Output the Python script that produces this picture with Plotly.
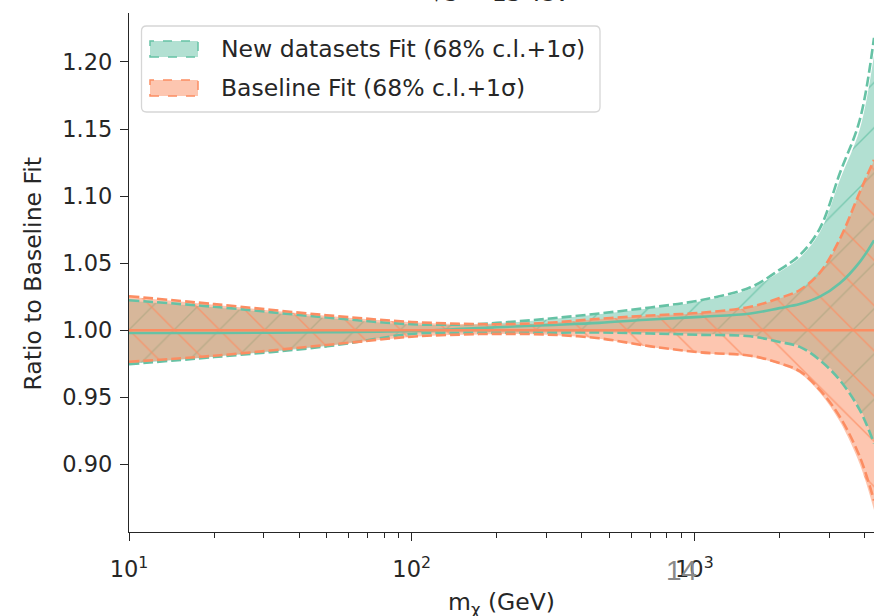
import plotly.graph_objects as go

# ---------------- data ----------------
mass = [10, 20, 50, 100, 150, 200, 300, 460, 700, 1050, 1580, 2000, 2360, 2780, 3270, 3850, 4320]

# Baseline fit (orange)
base_center = [1.0, 1.0, 1.0, 1.0, 1.0, 1.0, 1.0, 1.0, 1.0, 1.0, 1.0, 1.0, 1.0, 1.0, 1.0, 1.0, 1.0]
base_cl_up = [1.0250, 1.0190, 1.0108, 1.0060, 1.0046, 1.0043, 1.0053, 1.0083, 1.0108, 1.0128, 1.0172, 1.0236, 1.0296, 1.0425, 1.0675, 1.1025, 1.1265]
base_cl_lo = [0.9757, 0.9805, 0.9886, 0.9950, 0.9966, 0.9971, 0.9966, 0.9937, 0.9876, 0.9830, 0.9803, 0.9745, 0.9680, 0.9535, 0.9320, 0.9000, 0.8660]
base_sig_up = [1.0254, 1.0195, 1.0112, 1.0062, 1.0048, 1.0045, 1.0055, 1.0085, 1.0110, 1.0130, 1.0175, 1.0240, 1.0300, 1.0430, 1.0680, 1.1030, 1.1270]
base_sig_lo = [0.9765, 0.9810, 0.9890, 0.9952, 0.9968, 0.9973, 0.9968, 0.9940, 0.9880, 0.9835, 0.9810, 0.9755, 0.9695, 0.9555, 0.9355, 0.9056, 0.8730]

# New datasets fit (green)
new_center = [0.9980, 0.9980, 0.9985, 0.9995, 1.0010, 1.0022, 1.0038, 1.0055, 1.0080, 1.0100, 1.0125, 1.0165, 1.0195, 1.0250, 1.0350, 1.0510, 1.0670]
new_cl_up = [1.0220, 1.0171, 1.0092, 1.0043, 1.0040, 1.0052, 1.0081, 1.0120, 1.0164, 1.0216, 1.0310, 1.0435, 1.0540, 1.0730, 1.1120, 1.1500, 1.2050]
new_cl_lo = [0.9750, 0.9803, 0.9883, 0.9974, 0.9984, 0.9984, 0.9984, 0.9986, 0.9979, 0.9970, 0.9960, 0.9918, 0.9882, 0.9785, 0.9640, 0.9420, 0.9175]
new_sig_up = [1.0224, 1.0175, 1.0095, 1.0045, 1.0042, 1.0055, 1.0085, 1.0125, 1.0170, 1.0224, 1.0320, 1.0450, 1.0560, 1.0760, 1.1170, 1.1570, 1.2180]
new_sig_lo = [0.9747, 0.9800, 0.9880, 0.9972, 0.9982, 0.9982, 0.9982, 0.9983, 0.9976, 0.9966, 0.9955, 0.9913, 0.9876, 0.9777, 0.9628, 0.9404, 0.9156]

x_tick_vals = [10, 100, 1000]
x_tick_text = ["10<sup>1</sup>", "10<sup>2</sup>", "10<sup>3</sup>"]
x_minor_vals = [20, 30, 40, 50, 60, 70, 80, 90, 200, 300, 400, 500, 600, 700, 800, 900, 2000, 3000, 4000]
y_tick_vals = [0.90, 0.95, 1.00, 1.05, 1.10, 1.15, 1.20]
y_tick_text = ["0.90", "0.95", "1.00", "1.05", "1.10", "1.15", "1.20"]

legend_labels = ["New datasets Fit (68% c.l.+1σ)", "Baseline Fit (68% c.l.+1σ)"]
title_text = "√s = 13 TeV"
x_title = "m<sub>χ</sub> (GeV)"
y_title = "Ratio to Baseline Fit"
page_number = "14"

GREEN = "#66c2a5"
ORANGE = "#fc8d62"
GREEN_FILL = "rgba(102,194,165,0.5)"
ORANGE_FILL = "rgba(252,141,98,0.5)"
TXT = "#262626"

# ---------------- geometry helpers (layout only) ----------------
W, H = 874, 616
L, R, T, B = 129, 874, 13, 532


def px_x(p):
    return (p - L) / (R - L)


def px_y(p):
    return (B - p) / (B - T)


fig = go.Figure()


def band(lo, up, fill, fg, shape):
    lower = go.Scatter(x=mass, y=lo, mode="lines", line=dict(width=0, color=fill),
                       line_shape="spline", hoverinfo="skip", showlegend=False)
    upper = go.Scatter(
        x=mass, y=up, fill="tonexty", mode="lines", line=dict(width=0, color=fill),
        line_shape="spline", fillcolor=fill,
        fillpattern=dict(shape=shape, bgcolor=fill, fgcolor=fg, fgopacity=0.75,
                         size=32, solidity=0.045, fillmode="replace"),
        hoverinfo="skip", showlegend=False)
    return [lower, upper]


for tr in band(new_cl_lo, new_cl_up, GREEN_FILL, GREEN, "/"):
    fig.add_trace(tr)
for tr in band(base_cl_lo, base_cl_up, ORANGE_FILL, ORANGE, "\\"):
    fig.add_trace(tr)


def line(y, color, dash):
    return go.Scatter(x=mass, y=y, mode="lines", line_shape="spline",
                      line=dict(color=color, width=2.6, dash=dash),
                      hoverinfo="skip", showlegend=False)


fig.add_trace(line(new_sig_up, GREEN, "10px,4px"))
fig.add_trace(line(new_sig_lo, GREEN, "10px,4px"))
fig.add_trace(line(new_center, GREEN, "solid"))
fig.add_trace(line(base_sig_up, ORANGE, "10px,4px"))
fig.add_trace(line(base_sig_lo, ORANGE, "10px,4px"))
fig.add_trace(line(base_center, ORANGE, "solid"))

# ---------------- legend (manual) ----------------
def rounded_rect(x0, y0, x1, y1, r):
    return (f"M {px_x(x0 + r)} {px_y(y0)} L {px_x(x1 - r)} {px_y(y0)} "
            f"Q {px_x(x1)} {px_y(y0)} {px_x(x1)} {px_y(y0 + r)} "
            f"L {px_x(x1)} {px_y(y1 - r)} Q {px_x(x1)} {px_y(y1)} {px_x(x1 - r)} {px_y(y1)} "
            f"L {px_x(x0 + r)} {px_y(y1)} Q {px_x(x0)} {px_y(y1)} {px_x(x0)} {px_y(y1 - r)} "
            f"L {px_x(x0)} {px_y(y0 + r)} Q {px_x(x0)} {px_y(y0)} {px_x(x0 + r)} {px_y(y0)} Z")


shapes = [dict(type="path", xref="paper", yref="paper",
               path=rounded_rect(141.5, 26, 600, 112, 5),
               fillcolor="rgba(255,255,255,0.8)",
               line=dict(color="#d6d6d6", width=1.3), layer="above")]

legend_rows = [(49, GREEN_FILL, GREEN), (88, ORANGE_FILL, ORANGE)]
annotations = []
for (cy, fcol, lcol), lab in zip(legend_rows, legend_labels):
    shapes.append(dict(type="rect", xref="paper", yref="paper",
                       x0=px_x(150), x1=px_x(198), y0=px_y(cy + 8), y1=px_y(cy - 8),
                       fillcolor=fcol, line=dict(color=lcol, width=1.5, dash="dash"),
                       layer="above"))
    annotations.append(dict(text=lab, xref="paper", yref="paper", x=px_x(219), y=px_y(cy),
                            xanchor="left", yanchor="middle", showarrow=False,
                            font=dict(size=23.5, color=TXT, family="DejaVu Sans")))

annotations += [
    dict(text=title_text, xref="paper", yref="paper", x=px_x(500), y=px_y(-7),
         xanchor="center", yanchor="middle", showarrow=False,
         font=dict(size=23.5, color=TXT, family="DejaVu Sans")),
    dict(text=x_title, xref="paper", yref="paper", x=px_x(501), y=px_y(603),
         xanchor="center", yanchor="middle", showarrow=False,
         font=dict(size=23.5, color=TXT, family="DejaVu Sans")),
    dict(text=y_title, xref="paper", yref="paper", x=px_x(32), y=px_y(273.5),
         xanchor="center", yanchor="middle", showarrow=False, textangle=-90,
         font=dict(size=23.5, color=TXT, family="DejaVu Sans")),
    dict(text=page_number, xref="paper", yref="paper", x=px_x(681), y=px_y(570),
         xanchor="center", yanchor="middle", showarrow=False,
         font=dict(size=28, color="#8a8a8a", family="Liberation Sans")),
]

fig.update_layout(
    width=W, height=H,
    margin=dict(l=L, r=W - R, t=T, b=H - B, pad=0),
    plot_bgcolor="white", paper_bgcolor="white",
    font=dict(family="DejaVu Sans", size=22.5, color=TXT),
    showlegend=False,
    shapes=shapes, annotations=annotations,
    xaxis=dict(type="log", range=[1, 3.6355], showline=True, linecolor=TXT, linewidth=1.4,
               ticks="outside", ticklen=8, tickwidth=1.4, tickcolor=TXT,
               tickmode="array", tickvals=x_tick_vals, ticktext=x_tick_text,
               ticklabelstandoff=9,
               showgrid=False, zeroline=False,
               minor=dict(ticks="outside", ticklen=4.5, tickwidth=1.1, tickcolor=TXT,
                          tickmode="array", tickvals=x_minor_vals, showgrid=False)),
    yaxis=dict(range=[0.8496, 1.2365], showline=True, linecolor=TXT, linewidth=1.4,
               ticks="outside", ticklen=8, tickwidth=1.4, tickcolor=TXT,
               tickmode="array", tickvals=y_tick_vals, ticktext=y_tick_text,
               ticklabelstandoff=3,
               showgrid=False, zeroline=False),
)

fig.write_html("out.html")
